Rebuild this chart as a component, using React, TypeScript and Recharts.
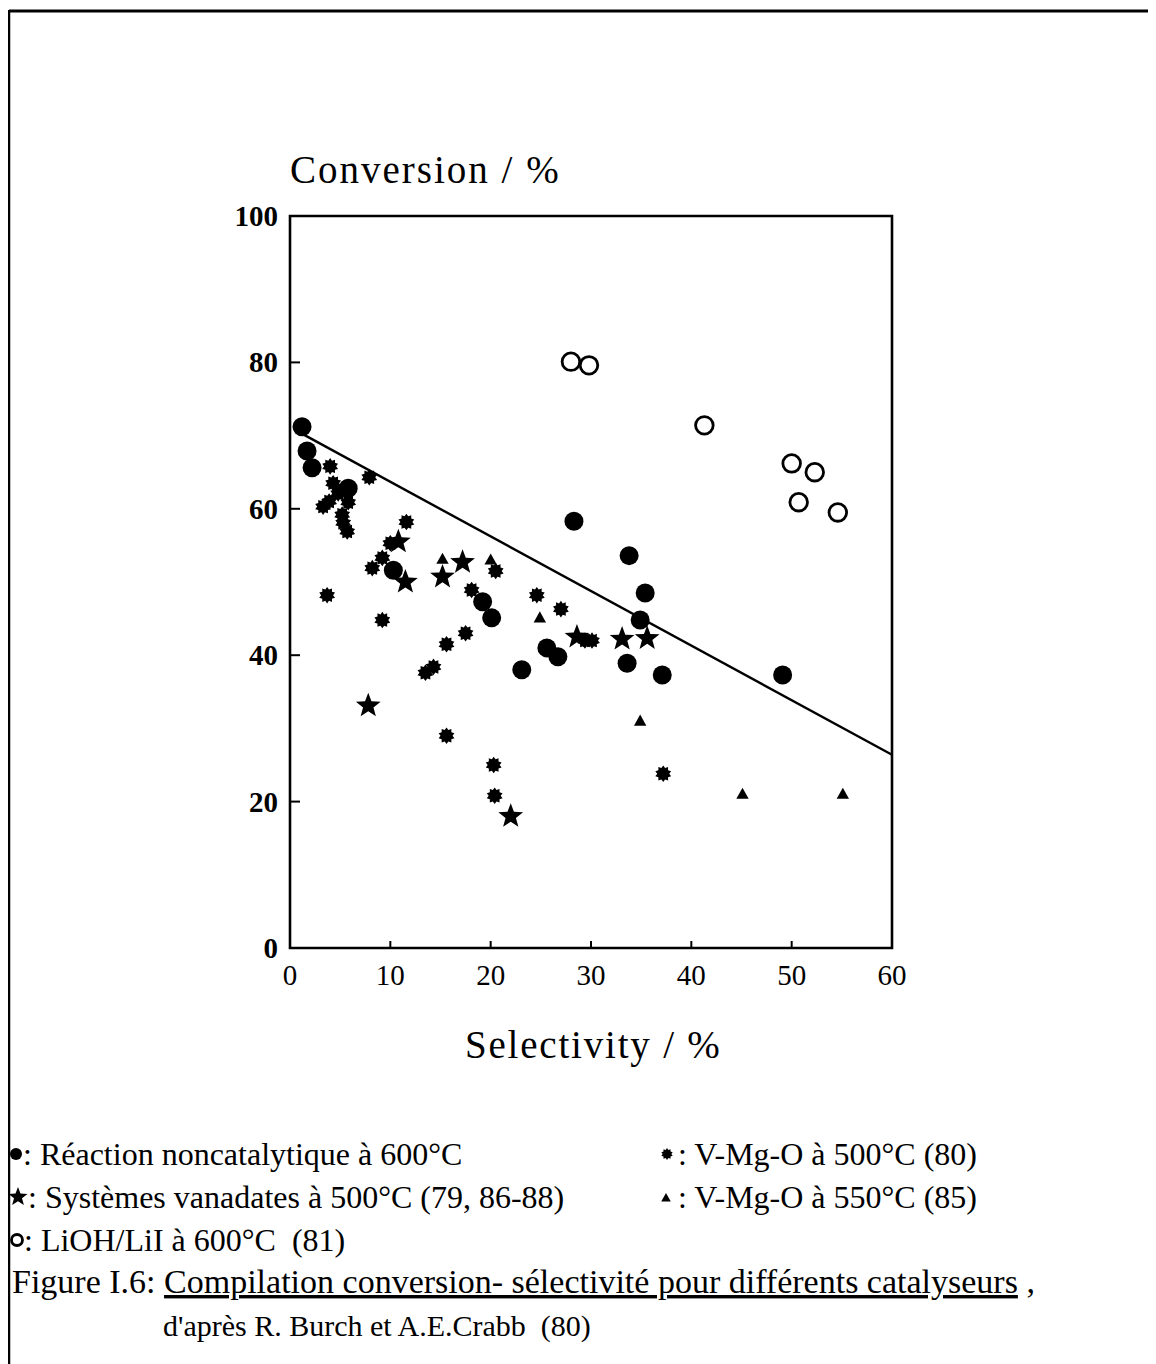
import { ScatterChart, Scatter, XAxis, YAxis, ReferenceLine, ReferenceArea } from "recharts";

// Réaction noncatalytique à 600°C
const noncatalytic = [
  { x: 1.2, y: 71.2 }, { x: 1.7, y: 67.9 }, { x: 2.2, y: 65.6 }, { x: 5.8, y: 62.8 },
  { x: 10.3, y: 51.6 }, { x: 19.2, y: 47.3 }, { x: 20.1, y: 45.1 }, { x: 23.1, y: 38.0 },
  { x: 25.6, y: 41.0 }, { x: 26.7, y: 39.8 }, { x: 28.3, y: 58.3 }, { x: 33.8, y: 53.6 },
  { x: 35.4, y: 48.5 }, { x: 34.9, y: 44.8 }, { x: 33.6, y: 38.9 }, { x: 37.1, y: 37.3 },
  { x: 49.1, y: 37.3 },
];

// Systèmes vanadates à 500°C
const vanadates = [
  { x: 10.8, y: 55.5 }, { x: 11.5, y: 50.0 }, { x: 15.2, y: 50.7 }, { x: 17.2, y: 52.7 },
  { x: 7.8, y: 33.1 }, { x: 22.0, y: 18.0 }, { x: 28.6, y: 42.5 }, { x: 33.1, y: 42.2 },
  { x: 35.6, y: 42.3 },
];

// LiOH/LiI à 600°C
const lioh = [
  { x: 28.0, y: 80.1 }, { x: 29.8, y: 79.6 }, { x: 41.3, y: 71.4 }, { x: 50.0, y: 66.2 },
  { x: 52.3, y: 65.0 }, { x: 50.7, y: 60.9 }, { x: 54.6, y: 59.5 },
];

// V-Mg-O à 500°C
const vmgo500 = [
  { x: 4.0, y: 65.8 }, { x: 7.9, y: 64.3 }, { x: 4.3, y: 63.5 }, { x: 4.8, y: 62.1 },
  { x: 5.8, y: 60.9 }, { x: 3.3, y: 60.3 }, { x: 3.9, y: 61.0 }, { x: 5.2, y: 59.2 },
  { x: 5.3, y: 58.1 }, { x: 5.7, y: 56.9 }, { x: 11.6, y: 58.2 }, { x: 10.0, y: 55.3 },
  { x: 8.2, y: 51.9 }, { x: 9.2, y: 53.3 }, { x: 3.7, y: 48.2 }, { x: 18.1, y: 48.9 },
  { x: 9.2, y: 44.8 }, { x: 17.5, y: 43.0 }, { x: 15.6, y: 41.5 }, { x: 13.5, y: 37.6 },
  { x: 14.3, y: 38.4 }, { x: 15.6, y: 29.0 }, { x: 20.3, y: 25.0 }, { x: 20.4, y: 20.8 },
  { x: 24.6, y: 48.2 }, { x: 27.0, y: 46.3 }, { x: 29.4, y: 42.0 }, { x: 30.1, y: 42.0 },
  { x: 37.2, y: 23.8 }, { x: 20.5, y: 51.5 },
];

// V-Mg-O à 550°C
const vmgo550 = [
  { x: 15.2, y: 53.1 }, { x: 20.0, y: 53.0 }, { x: 24.9, y: 45.1 }, { x: 34.9, y: 31.0 },
  { x: 45.1, y: 21.0 }, { x: 55.1, y: 21.0 },
];

const trendLine = [{ x: 1.0, y: 70.4 }, { x: 60, y: 26.4 }];

const xTicks = [0, 10, 20, 30, 40, 50, 60];
const yTicks = [0, 20, 40, 60, 80, 100];

const FONT = "'Liberation Serif', 'Times New Roman', serif";

const starPoints = (cx: number, cy: number, ro: number, ri: number, n: number) => {
  const pts: string[] = [];
  for (let i = 0; i < n * 2; i++) {
    const r = i % 2 === 0 ? ro : ri;
    const a = -Math.PI / 2 + (i * Math.PI) / n;
    pts.push(`${(cx + r * Math.cos(a)).toFixed(2)},${(cy + r * Math.sin(a)).toFixed(2)}`);
  }
  return pts.join(" ");
};

const Dot = ({ cx, cy, r = 9.5 }: any) => <circle cx={cx} cy={cy} r={r} fill="#000" />;
const Ring = ({ cx, cy, r = 8.8 }: any) => (
  <circle cx={cx} cy={cy} r={r} fill="#fff" stroke="#000" strokeWidth={2.8} />
);
const Star = ({ cx, cy, s = 13 }: any) => (
  <polygon points={starPoints(cx, cy, s, s * 0.42, 5)} fill="#000" />
);
const Gear = ({ cx, cy, s = 8.3 }: any) => (
  <polygon points={starPoints(cx, cy, s, s * 0.72, 10)} fill="#000" />
);
const Tri = ({ cx, cy, s = 6.5 }: any) => (
  <polygon
    points={`${cx},${cy - s} ${cx - s * 0.95},${cy + s * 0.7} ${cx + s * 0.95},${cy + s * 0.7}`}
    fill="#000"
  />
);

const YTick = ({ x, y, payload }: any) => (
  <g>
    <text x={x} y={y + 10} textAnchor="end" fontFamily={FONT} fontSize={29} fontWeight="bold" fill="#000">
      {payload.value}
    </text>
    {payload.value > 0 && payload.value < 100 && (
      <line x1={x + 12} x2={x + 22} y1={y} y2={y} stroke="#000" strokeWidth={2} />
    )}
  </g>
);

const XTick = ({ x, y, payload }: any) => (
  <g>
    <text x={x} y={y + 37} textAnchor="middle" fontFamily={FONT} fontSize={29} fill="#000">
      {payload.value}
    </text>
    {payload.value > 0 && payload.value < 60 && (
      <line x1={x} x2={x} y1={y} y2={y - 7} stroke="#000" strokeWidth={2} />
    )}
  </g>
);

export default function App() {
  const txt = { fontFamily: FONT, fontSize: 32, fill: "#000" } as const;
  return (
    <div style={{ position: "relative", width: 1148, height: 1356 }}>
      <ScatterChart
        width={1148}
        height={1000}
        margin={{ top: 208, right: 264, left: 222, bottom: 0 }}
      >
        <XAxis
          type="number"
          dataKey="x"
          domain={[0, 60]}
          ticks={xTicks}
          axisLine={false}
          tickLine={false}
          tickSize={0}
          tickMargin={0}
          height={60}
          tick={<XTick />}
          interval={0}
        />
        <YAxis
          type="number"
          dataKey="y"
          domain={[0, 100]}
          ticks={yTicks}
          axisLine={false}
          tickLine={false}
          tickSize={0}
          tickMargin={12}
          width={60}
          tick={<YTick />}
          interval={0}
        />
        <ReferenceArea x1={0} x2={60} y1={0} y2={100} fill="none" stroke="#000" strokeWidth={2.6} />
        <ReferenceLine segment={trendLine} stroke="#000" strokeWidth={2.4} ifOverflow="visible" />
        <Scatter data={vmgo500} isAnimationActive={false} shape={(p: any) => <Gear cx={p.cx} cy={p.cy} />} />
        <Scatter data={vmgo550} isAnimationActive={false} shape={(p: any) => <Tri cx={p.cx} cy={p.cy} />} />
        <Scatter data={noncatalytic} isAnimationActive={false} shape={(p: any) => <Dot cx={p.cx} cy={p.cy} />} />
        <Scatter data={vanadates} isAnimationActive={false} shape={(p: any) => <Star cx={p.cx} cy={p.cy} />} />
        <Scatter data={lioh} isAnimationActive={false} shape={(p: any) => <Ring cx={p.cx} cy={p.cy} />} />
      </ScatterChart>

      <svg
        width={1148}
        height={1356}
        style={{ position: "absolute", left: 0, top: 0, pointerEvents: "none" }}
      >
        <line x1={1} x2={1148} y1={3} y2={3} stroke="#000" strokeWidth={3} />
        <line x1={1} x2={1} y1={2} y2={1356} stroke="#000" strokeWidth={2.5} />

        <text x={282} y={175} fontFamily={FONT} fontSize={39} letterSpacing={2} fill="#000">
          Conversion / %
        </text>
        <text x={457} y={1050} fontFamily={FONT} fontSize={39} letterSpacing={1.8} fill="#000">
          Selectivity / %
        </text>

        <Dot cx={8} cy={1146} r={6} />
        <text x={15} y={1157} {...txt}>: Réaction noncatalytique à 600°C</text>
        <Gear cx={659} cy={1146} s={6} />
        <text x={670} y={1157} {...txt}> : V-Mg-O à 500°C (80)</text>

        <Star cx={10} cy={1189} s={10} />
        <text x={20} y={1200} {...txt}>: Systèmes vanadates à 500°C (79, 86-88)</text>
        <Tri cx={658} cy={1190} s={5} />
        <text x={670} y={1200} {...txt}> : V-Mg-O à 550°C (85)</text>

        <Ring cx={9} cy={1232} r={5.5} />
        <text x={16} y={1243} {...txt} style={{ whiteSpace: "pre" }}>: LiOH/LiI à 600°C  (81)</text>

        <text x={4} y={1285} fontFamily={FONT} fontSize={34} fill="#000" style={{ whiteSpace: "pre" }}>
          Figure I.6: <tspan style={{ textDecoration: "underline" }}>Compilation conversion- sélectivité pour différents catalyseurs</tspan> ,
        </text>
        <text x={155} y={1328} fontFamily={FONT} fontSize={30} fill="#000" style={{ whiteSpace: "pre" }}>
          d'après R. Burch et A.E.Crabb  (80)
        </text>
      </svg>
    </div>
  );
}
